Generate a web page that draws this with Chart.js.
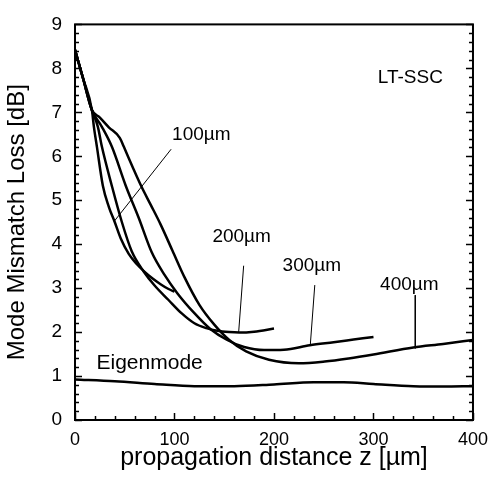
<!DOCTYPE html>
<html>
<head>
<meta charset="utf-8">
<script src="https://cdn.jsdelivr.net/npm/chart.js@4.4.1/dist/chart.umd.min.js"></script>
<style>
  html, body { margin: 0; padding: 0; background: #fff; }
  #wrap { width: 497px; height: 482px; }
</style>
</head>
<body>
<div id="wrap"><canvas id="chart" width="497" height="482"></canvas></div>
<script>
// 数据：近似值
const z100 = [0, 8, 17, 19, 22, 28, 34, 40, 46, 54, 62, 70, 78, 86, 94, 100];
const loss100 = [8.42, 7.78, 7.05, 6.67, 6.22, 5.33, 4.85, 4.5, 4.13, 3.78, 3.55, 3.37, 3.22, 3.09, 2.98, 2.92];

const z200 = [0, 8, 17, 23, 27, 37, 47, 57, 69, 80, 94, 107, 120, 132, 143, 155, 165, 180, 200];
const loss200 = [8.42, 7.78, 7.05, 6.67, 6.22, 5.33, 4.51, 3.84, 3.38, 3.06, 2.73, 2.43, 2.2, 2.09, 2.03, 2.0, 1.99, 2.01, 2.08];

const z300 = [0, 8, 17, 27, 37, 51, 64, 77, 90, 103, 120, 136, 153, 170, 190, 210, 236, 260, 280, 300];
const loss300 = [8.42, 7.78, 7.05, 6.67, 6.22, 5.33, 4.6, 3.82, 3.3, 2.88, 2.43, 2.07, 1.82, 1.66, 1.59, 1.6, 1.7, 1.77, 1.83, 1.89];

const z400 = [0, 8, 17, 25, 34, 45, 49, 58, 67, 76, 86, 98, 110, 125, 140, 155, 172, 195, 225, 251, 275, 300, 340, 370, 400];
const loss400 = [8.42, 7.78, 7.05, 6.88, 6.66, 6.42, 6.22, 5.75, 5.3, 4.9, 4.45, 3.85, 3.25, 2.62, 2.17, 1.82, 1.56, 1.37, 1.29, 1.33, 1.4, 1.49, 1.65, 1.73, 1.82];

const zEigen = [0, 40, 80, 120, 160, 200, 240, 270, 300, 340, 370, 400];
const lossEigen = [0.92, 0.88, 0.82, 0.77, 0.77, 0.81, 0.86, 0.86, 0.82, 0.77, 0.76, 0.77];

// 标注引线 [z, loss] 两端
const leader100 = [[96.6, 6.16], [39.4, 4.52]];
const leader200 = [[169.5, 3.51], [164.5, 2.0]];
const leader300 = [[241, 3.07], [236.5, 1.71]];
const leader400 = [[342, 2.84], [342, 1.63]];

const labelTexts = ['100\u00b5m', '200\u00b5m', '300\u00b5m', '400\u00b5m', 'LT-SSC', 'Eigenmode'];
const labelZ = [127, 167.5, 238, 336, 337, 75];
const labelLoss = [6.49, 4.18, 3.51, 3.07, 7.78, 1.29];

const xTicks = [0, 100, 200, 300, 400];
const yTicks = [0, 1, 2, 3, 4, 5, 6, 7, 8, 9];

const FONT = "'Liberation Sans', Arial, Helvetica, sans-serif";

function pts(xs, ys) {
    return xs.map((x, i) => ({ x: x, y: ys[i] }));
}

function curve(xs, ys) {
    return {
        data: pts(xs, ys),
        borderColor: '#000',
        borderWidth: 2.5,
        pointRadius: 0,
        cubicInterpolationMode: 'monotone',
        fill: false,
    };
}

function leader(p) {
    return {
        data: p.map(a => ({ x: a[0], y: a[1] })),
        borderColor: '#000',
        borderWidth: 1,
        pointRadius: 0,
        tension: 0,
        fill: false,
    };
}

// 边框 + 向内刻度
const framePlugin = {
    id: 'frame',
    afterDatasetsDraw(chart) {
        const { ctx, chartArea: a } = chart;
        const x = chart.scales.x, y = chart.scales.y;
        ctx.save();
        ctx.strokeStyle = '#000';
        ctx.lineCap = 'butt';
        ctx.lineWidth = 1.5;
        // y 轴刻度 (左右)
        for (let i = 0; i <= 45; i++) {
            const v = i * 0.2;
            const py = Math.round(y.getPixelForValue(v)) + 0.5;
            const len = (i % 5 === 0) ? 7 : 4;
            ctx.beginPath();
            ctx.moveTo(a.left, py); ctx.lineTo(a.left + len, py);
            ctx.moveTo(a.right, py); ctx.lineTo(a.right - len, py);
            ctx.stroke();
        }
        // x 轴刻度 (下)
        for (let i = 0; i <= 20; i++) {
            const v = i * 20;
            const px = Math.round(x.getPixelForValue(v)) + 0.5;
            const len = (i % 5 === 0) ? 7 : 4;
            ctx.beginPath();
            ctx.moveTo(px, a.bottom); ctx.lineTo(px, a.bottom - len);
            ctx.stroke();
        }
        ctx.lineWidth = 2;
        ctx.strokeRect(a.left, a.top, a.right - a.left, a.bottom - a.top);

        // 文字标注
        ctx.fillStyle = '#000';
        ctx.textAlign = 'center';
        ctx.textBaseline = 'middle';
        labelTexts.forEach((t, i) => {
            ctx.font = (t === 'Eigenmode' ? '21px ' : '19px ') + FONT;
            ctx.fillText(t, x.getPixelForValue(labelZ[i]), y.getPixelForValue(labelLoss[i]));
        });
        ctx.restore();
    }
};

new Chart(document.getElementById('chart').getContext('2d'), {
    type: 'line',
    data: {
        datasets: [
            curve(z100, loss100),
            curve(z200, loss200),
            curve(z300, loss300),
            curve(z400, loss400),
            curve(zEigen, lossEigen),
            leader(leader100),
            leader(leader200),
            leader(leader300),
            leader(leader400),
        ],
    },
    options: {
        responsive: false,
        animation: false,
        devicePixelRatio: 1,
        layout: { padding: { top: 15, right: 16, left: 0, bottom: 0 } },
        plugins: {
            legend: { display: false },
            tooltip: { enabled: false },
        },
        scales: {
            x: {
                type: 'linear',
                min: 0,
                max: 400,
                afterFit: s => { s.height = 62; },
                afterBuildTicks: s => { s.ticks = xTicks.map(v => ({ value: v })); },
                grid: { display: false, drawTicks: false },
                border: { display: false },
                ticks: {
                    color: '#000',
                    padding: 9,
                    maxRotation: 0,
                    font: { family: FONT, size: 18 },
                },
                title: {
                    display: true,
                    text: 'propagation distance z [\u00b5m]',
                    color: '#000',
                    padding: { top: 0, bottom: 9 },
                    font: { family: FONT, size: 25 },
                },
            },
            y: {
                type: 'linear',
                min: 0,
                max: 9,
                afterFit: s => { s.width = 75; },
                afterBuildTicks: s => { s.ticks = yTicks.map(v => ({ value: v })); },
                grid: { display: false, drawTicks: false },
                border: { display: false },
                ticks: {
                    color: '#000',
                    padding: 13,
                    font: { family: FONT, size: 19 },
                },
                title: {
                    display: true,
                    text: 'Mode Mismatch Loss [dB]',
                    color: '#000',
                    padding: { top: 3, bottom: 0 },
                    font: { family: FONT, size: 24 },
                },
            },
        },
    },
    plugins: [framePlugin],
});
</script>
</body>
</html>
